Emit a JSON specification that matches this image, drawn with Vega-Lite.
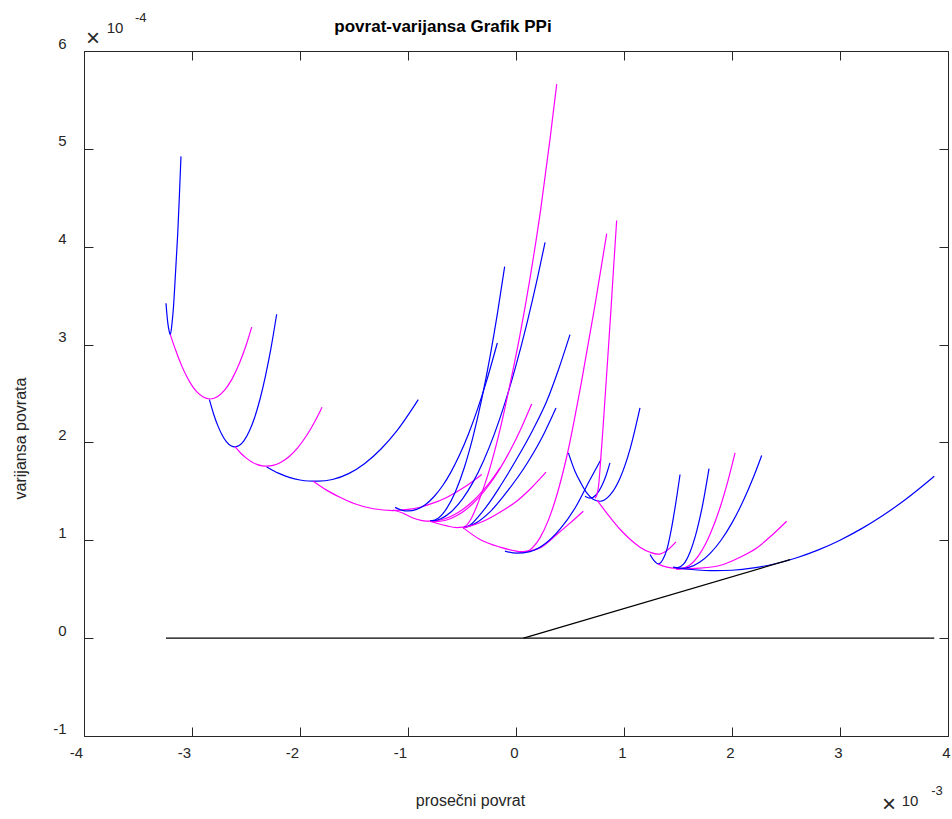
{
"$schema":"https://vega.github.io/schema/vega-lite/v6.json",
"width":864,"height":685,
"autosize":{"type":"none"},
"padding":{"left":84,"top":51,"right":4,"bottom":83},
"background":"white",
"config":{"view":{"stroke":null},"font":"Liberation Sans",
 "axis":{"grid":false,"domainColor":"#262626","tickColor":"#262626","labelColor":"#262626","titleColor":"#262626","labelFont":"Liberation Sans","titleFont":"Liberation Sans","labelFontSize":15,"titleFontSize":16,"titleFontWeight":"normal","tickSize":-9,"domainWidth":1,"tickWidth":1,"labelFlush":false}},
"title":{"text":"povrat-varijansa Grafik PPi","fontSize":17,"fontWeight":"bold","font":"Liberation Sans","color":"#000000","anchor":"middle","dx":-73,"baseline":"bottom","offset":0,"dy":41},
"datasets":{
"lines":[
{"s":1,"c":"b","x":-3.241,"y":3.422},{"s":1,"c":"b","x":-3.225,"y":3.23},{"s":1,"c":"b","x":-3.212,"y":3.14},{"s":1,"c":"b","x":-3.201,"y":3.102},{"s":1,"c":"b","x":-3.185,"y":3.218},{"s":1,"c":"b","x":-3.171,"y":3.391},{"s":1,"c":"b","x":-3.157,"y":3.647},{"s":1,"c":"b","x":-3.144,"y":3.902},{"s":1,"c":"b","x":-3.132,"y":4.137},{"s":1,"c":"b","x":-3.117,"y":4.515},{"s":1,"c":"b","x":-3.102,"y":4.923},
{"s":2,"c":"m","x":-3.201,"y":3.102},{"s":2,"c":"m","x":-3.15,"y":2.939},{"s":2,"c":"m","x":-3.1,"y":2.795},{"s":2,"c":"m","x":-3.05,"y":2.676},{"s":2,"c":"m","x":-3.0,"y":2.581},{"s":2,"c":"m","x":-2.95,"y":2.511},{"s":2,"c":"m","x":-2.9,"y":2.466},{"s":2,"c":"m","x":-2.833,"y":2.444},{"s":2,"c":"m","x":-2.77,"y":2.464},{"s":2,"c":"m","x":-2.7,"y":2.531},{"s":2,"c":"m","x":-2.63,"y":2.647},{"s":2,"c":"m","x":-2.56,"y":2.811},{"s":2,"c":"m","x":-2.5,"y":2.991},{"s":2,"c":"m","x":-2.447,"y":3.179},
{"s":3,"c":"b","x":-2.839,"y":2.437},{"s":3,"c":"b","x":-2.8,"y":2.291},{"s":3,"c":"b","x":-2.76,"y":2.169},{"s":3,"c":"b","x":-2.72,"y":2.074},{"s":3,"c":"b","x":-2.68,"y":2.006},{"s":3,"c":"b","x":-2.64,"y":1.966},{"s":3,"c":"b","x":-2.602,"y":1.954},{"s":3,"c":"b","x":-2.56,"y":1.97},{"s":3,"c":"b","x":-2.52,"y":2.015},{"s":3,"c":"b","x":-2.47,"y":2.113},{"s":3,"c":"b","x":-2.42,"y":2.255},{"s":3,"c":"b","x":-2.37,"y":2.444},{"s":3,"c":"b","x":-2.32,"y":2.678},{"s":3,"c":"b","x":-2.27,"y":2.955},{"s":3,"c":"b","x":-2.216,"y":3.31},
{"s":4,"c":"m","x":-2.602,"y":1.956},{"s":4,"c":"m","x":-2.55,"y":1.892},{"s":4,"c":"m","x":-2.5,"y":1.842},{"s":4,"c":"m","x":-2.45,"y":1.803},{"s":4,"c":"m","x":-2.4,"y":1.776},{"s":4,"c":"m","x":-2.35,"y":1.761},{"s":4,"c":"m","x":-2.308,"y":1.757},{"s":4,"c":"m","x":-2.25,"y":1.765},{"s":4,"c":"m","x":-2.18,"y":1.795},{"s":4,"c":"m","x":-2.1,"y":1.857},{"s":4,"c":"m","x":-2.02,"y":1.948},{"s":4,"c":"m","x":-1.94,"y":2.068},{"s":4,"c":"m","x":-1.86,"y":2.219},{"s":4,"c":"m","x":-1.796,"y":2.36},
{"s":5,"c":"b","x":-2.308,"y":1.75},{"s":5,"c":"b","x":-2.2,"y":1.686},{"s":5,"c":"b","x":-2.1,"y":1.643},{"s":5,"c":"b","x":-2.0,"y":1.616},{"s":5,"c":"b","x":-1.92,"y":1.606},{"s":5,"c":"b","x":-1.833,"y":1.604},{"s":5,"c":"b","x":-1.7,"y":1.621},{"s":5,"c":"b","x":-1.55,"y":1.681},{"s":5,"c":"b","x":-1.4,"y":1.785},{"s":5,"c":"b","x":-1.25,"y":1.933},{"s":5,"c":"b","x":-1.1,"y":2.123},{"s":5,"c":"b","x":-0.905,"y":2.437},
{"s":6,"c":"m","x":-1.877,"y":1.604},{"s":6,"c":"m","x":-1.75,"y":1.51},{"s":6,"c":"m","x":-1.63,"y":1.44},{"s":6,"c":"m","x":-1.5,"y":1.376},{"s":6,"c":"m","x":-1.321,"y":1.322},{"s":6,"c":"m","x":-1.139,"y":1.304},{"s":6,"c":"m","x":-1.0,"y":1.315},{"s":6,"c":"m","x":-0.889,"y":1.338},{"s":6,"c":"m","x":-0.75,"y":1.387},{"s":6,"c":"m","x":-0.642,"y":1.438},{"s":6,"c":"m","x":-0.472,"y":1.546},{"s":6,"c":"m","x":-0.317,"y":1.672},
{"s":7,"c":"b","x":-1.12,"y":1.336},{"s":7,"c":"b","x":-1.06,"y":1.309},{"s":7,"c":"b","x":-1.0,"y":1.3},{"s":7,"c":"b","x":-0.92,"y":1.316},{"s":7,"c":"b","x":-0.84,"y":1.364},{"s":7,"c":"b","x":-0.76,"y":1.445},{"s":7,"c":"b","x":-0.68,"y":1.557},{"s":7,"c":"b","x":-0.6,"y":1.702},{"s":7,"c":"b","x":-0.52,"y":1.878},{"s":7,"c":"b","x":-0.44,"y":2.087},{"s":7,"c":"b","x":-0.36,"y":2.328},{"s":7,"c":"b","x":-0.28,"y":2.601},{"s":7,"c":"b","x":-0.173,"y":3.016},
{"s":8,"c":"m","x":-1.139,"y":1.31},{"s":8,"c":"m","x":-1.05,"y":1.279},{"s":8,"c":"m","x":-0.96,"y":1.23},{"s":8,"c":"m","x":-0.88,"y":1.204},{"s":8,"c":"m","x":-0.796,"y":1.195},{"s":8,"c":"m","x":-0.7,"y":1.207},{"s":8,"c":"m","x":-0.6,"y":1.245},{"s":8,"c":"m","x":-0.5,"y":1.309},{"s":8,"c":"m","x":-0.4,"y":1.399},{"s":8,"c":"m","x":-0.3,"y":1.515},{"s":8,"c":"m","x":-0.22,"y":1.626},{"s":8,"c":"m","x":-0.148,"y":1.741},
{"s":9,"c":"m","x":-0.796,"y":1.193},{"s":9,"c":"m","x":-0.75,"y":1.19},{"s":9,"c":"m","x":-0.65,"y":1.205},{"s":9,"c":"m","x":-0.55,"y":1.25},{"s":9,"c":"m","x":-0.45,"y":1.325},{"s":9,"c":"m","x":-0.35,"y":1.43},{"s":9,"c":"m","x":-0.25,"y":1.565},{"s":9,"c":"m","x":-0.15,"y":1.73},{"s":9,"c":"m","x":-0.05,"y":1.925},{"s":9,"c":"m","x":0.05,"y":2.15},{"s":9,"c":"m","x":0.145,"y":2.392},
{"s":10,"c":"b","x":-0.796,"y":1.195},{"s":10,"c":"b","x":-0.72,"y":1.226},{"s":10,"c":"b","x":-0.64,"y":1.328},{"s":10,"c":"b","x":-0.56,"y":1.499},{"s":10,"c":"b","x":-0.48,"y":1.739},{"s":10,"c":"b","x":-0.4,"y":2.05},{"s":10,"c":"b","x":-0.32,"y":2.43},{"s":10,"c":"b","x":-0.24,"y":2.88},{"s":10,"c":"b","x":-0.17,"y":3.331},{"s":10,"c":"b","x":-0.105,"y":3.797},
{"s":11,"c":"b","x":-0.796,"y":1.195},{"s":11,"c":"b","x":-0.7,"y":1.218},{"s":11,"c":"b","x":-0.6,"y":1.292},{"s":11,"c":"b","x":-0.5,"y":1.415},{"s":11,"c":"b","x":-0.4,"y":1.589},{"s":11,"c":"b","x":-0.3,"y":1.813},{"s":11,"c":"b","x":-0.2,"y":2.087},{"s":11,"c":"b","x":-0.1,"y":2.412},{"s":11,"c":"b","x":0.0,"y":2.787},{"s":11,"c":"b","x":0.1,"y":3.212},{"s":11,"c":"b","x":0.2,"y":3.687},{"s":11,"c":"b","x":0.269,"y":4.045},
{"s":12,"c":"m","x":-0.796,"y":1.195},{"s":12,"c":"m","x":-0.648,"y":1.149},{"s":12,"c":"m","x":-0.55,"y":1.13},{"s":12,"c":"m","x":-0.488,"y":1.135},{"s":12,"c":"m","x":-0.426,"y":1.2},{"s":12,"c":"m","x":-0.352,"y":1.38},{"s":12,"c":"m","x":-0.241,"y":1.74},{"s":12,"c":"m","x":-0.148,"y":2.13},{"s":12,"c":"m","x":-0.062,"y":2.56},{"s":12,"c":"m","x":0.037,"y":3.1},{"s":12,"c":"m","x":0.13,"y":3.68},{"s":12,"c":"m","x":0.231,"y":4.4},{"s":12,"c":"m","x":0.315,"y":5.1},{"s":12,"c":"m","x":0.377,"y":5.662},
{"s":13,"c":"b","x":-0.488,"y":1.127},{"s":13,"c":"b","x":-0.42,"y":1.16},{"s":13,"c":"b","x":-0.35,"y":1.24},{"s":13,"c":"b","x":-0.25,"y":1.38},{"s":13,"c":"b","x":-0.148,"y":1.55},{"s":13,"c":"b","x":0.006,"y":1.83},{"s":13,"c":"b","x":0.157,"y":2.13},{"s":13,"c":"b","x":0.284,"y":2.42},{"s":13,"c":"b","x":0.389,"y":2.73},{"s":13,"c":"b","x":0.5,"y":3.102},
{"s":14,"c":"b","x":-0.488,"y":1.127},{"s":14,"c":"b","x":-0.38,"y":1.17},{"s":14,"c":"b","x":-0.241,"y":1.29},{"s":14,"c":"b","x":-0.074,"y":1.51},{"s":14,"c":"b","x":0.099,"y":1.78},{"s":14,"c":"b","x":0.241,"y":2.05},{"s":14,"c":"b","x":0.37,"y":2.352},
{"s":15,"c":"m","x":-0.488,"y":1.127},{"s":15,"c":"m","x":-0.302,"y":1.195},{"s":15,"c":"m","x":-0.148,"y":1.287},{"s":15,"c":"m","x":0.006,"y":1.399},{"s":15,"c":"m","x":0.148,"y":1.542},{"s":15,"c":"m","x":0.278,"y":1.696},
{"s":16,"c":"m","x":-0.488,"y":1.127},{"s":16,"c":"m","x":-0.333,"y":1.008},{"s":16,"c":"m","x":-0.148,"y":0.93},{"s":16,"c":"m","x":0.006,"y":0.889},{"s":16,"c":"m","x":0.065,"y":0.878},{"s":16,"c":"m","x":0.148,"y":0.919},{"s":16,"c":"m","x":0.222,"y":1.025},{"s":16,"c":"m","x":0.296,"y":1.196},{"s":16,"c":"m","x":0.377,"y":1.458},{"s":16,"c":"m","x":0.469,"y":1.851},{"s":16,"c":"m","x":0.608,"y":2.63},{"s":16,"c":"m","x":0.731,"y":3.4},{"s":16,"c":"m","x":0.84,"y":4.134},
{"s":17,"c":"m","x":0.006,"y":0.885},{"s":17,"c":"m","x":0.065,"y":0.884},{"s":17,"c":"m","x":0.222,"y":0.922},{"s":17,"c":"m","x":0.377,"y":1.059},{"s":17,"c":"m","x":0.5,"y":1.175},{"s":17,"c":"m","x":0.623,"y":1.297},
{"s":18,"c":"b","x":-0.102,"y":0.889},{"s":18,"c":"b","x":0.006,"y":0.868},{"s":18,"c":"b","x":0.13,"y":0.884},{"s":18,"c":"b","x":0.269,"y":0.964},{"s":18,"c":"b","x":0.407,"y":1.113},{"s":18,"c":"b","x":0.546,"y":1.328},{"s":18,"c":"b","x":0.685,"y":1.619},{"s":18,"c":"b","x":0.787,"y":1.825},
{"s":19,"c":"b","x":0.485,"y":1.893},{"s":19,"c":"b","x":0.546,"y":1.706},{"s":19,"c":"b","x":0.602,"y":1.583},{"s":19,"c":"b","x":0.657,"y":1.481},{"s":19,"c":"b","x":0.713,"y":1.42},{"s":19,"c":"b","x":0.778,"y":1.399},{"s":19,"c":"b","x":0.87,"y":1.461},{"s":19,"c":"b","x":0.963,"y":1.634},{"s":19,"c":"b","x":1.056,"y":1.931},{"s":19,"c":"b","x":1.148,"y":2.352},
{"s":20,"c":"b","x":0.639,"y":1.45},{"s":20,"c":"b","x":0.685,"y":1.43},{"s":20,"c":"b","x":0.741,"y":1.463},{"s":20,"c":"b","x":0.796,"y":1.56},{"s":20,"c":"b","x":0.833,"y":1.66},{"s":20,"c":"b","x":0.87,"y":1.791},
{"s":21,"c":"m","x":0.731,"y":1.43},{"s":21,"c":"m","x":0.75,"y":1.47},{"s":21,"c":"m","x":0.765,"y":1.56},{"s":21,"c":"m","x":0.78,"y":1.76},{"s":21,"c":"m","x":0.8,"y":2.06},{"s":21,"c":"m","x":0.82,"y":2.38},{"s":21,"c":"m","x":0.85,"y":2.87},{"s":21,"c":"m","x":0.88,"y":3.37},{"s":21,"c":"m","x":0.905,"y":3.81},{"s":21,"c":"m","x":0.932,"y":4.267},
{"s":22,"c":"m","x":0.75,"y":1.41},{"s":22,"c":"m","x":0.87,"y":1.236},{"s":22,"c":"m","x":0.963,"y":1.113},{"s":22,"c":"m","x":1.056,"y":1.011},{"s":22,"c":"m","x":1.148,"y":0.93},{"s":22,"c":"m","x":1.241,"y":0.878},{"s":22,"c":"m","x":1.315,"y":0.858},{"s":22,"c":"m","x":1.389,"y":0.889},{"s":22,"c":"m","x":1.481,"y":0.984},
{"s":23,"c":"b","x":1.241,"y":0.855},{"s":23,"c":"b","x":1.278,"y":0.792},{"s":23,"c":"b","x":1.318,"y":0.759},{"s":23,"c":"b","x":1.361,"y":0.807},{"s":23,"c":"b","x":1.398,"y":0.909},{"s":23,"c":"b","x":1.435,"y":1.093},{"s":23,"c":"b","x":1.472,"y":1.328},{"s":23,"c":"b","x":1.519,"y":1.672},
{"s":24,"c":"m","x":1.315,"y":0.756},{"s":24,"c":"m","x":1.398,"y":0.725},{"s":24,"c":"m","x":1.481,"y":0.712},{"s":24,"c":"m","x":1.52,"y":0.71},{"s":24,"c":"m","x":1.6,"y":0.739},{"s":24,"c":"m","x":1.7,"y":0.858},{"s":24,"c":"m","x":1.8,"y":1.069},{"s":24,"c":"m","x":1.9,"y":1.371},{"s":24,"c":"m","x":1.96,"y":1.597},{"s":24,"c":"m","x":2.028,"y":1.893},
{"s":25,"c":"b","x":1.481,"y":0.71},{"s":25,"c":"b","x":1.549,"y":0.753},{"s":25,"c":"b","x":1.611,"y":0.878},{"s":25,"c":"b","x":1.673,"y":1.093},{"s":25,"c":"b","x":1.722,"y":1.328},{"s":25,"c":"b","x":1.787,"y":1.733},
{"s":26,"c":"b","x":1.481,"y":0.713},{"s":26,"c":"b","x":1.52,"y":0.71},{"s":26,"c":"b","x":1.6,"y":0.723},{"s":26,"c":"b","x":1.7,"y":0.776},{"s":26,"c":"b","x":1.8,"y":0.869},{"s":26,"c":"b","x":1.9,"y":1.003},{"s":26,"c":"b","x":2.0,"y":1.178},{"s":26,"c":"b","x":2.1,"y":1.393},{"s":26,"c":"b","x":2.2,"y":1.649},{"s":26,"c":"b","x":2.275,"y":1.867},
{"s":27,"c":"m","x":1.481,"y":0.705},{"s":27,"c":"m","x":1.704,"y":0.715},{"s":27,"c":"m","x":1.919,"y":0.753},{"s":27,"c":"m","x":2.074,"y":0.827},{"s":27,"c":"m","x":2.229,"y":0.922},{"s":27,"c":"m","x":2.37,"y":1.052},{"s":27,"c":"m","x":2.506,"y":1.195},
{"s":28,"c":"b","x":1.454,"y":0.726},{"s":28,"c":"b","x":1.6,"y":0.704},{"s":28,"c":"b","x":1.75,"y":0.691},{"s":28,"c":"b","x":1.85,"y":0.689},{"s":28,"c":"b","x":2.0,"y":0.694},{"s":28,"c":"b","x":2.2,"y":0.718},{"s":28,"c":"b","x":2.4,"y":0.76},{"s":28,"c":"b","x":2.6,"y":0.822},{"s":28,"c":"b","x":2.8,"y":0.902},{"s":28,"c":"b","x":3.0,"y":1.001},{"s":28,"c":"b","x":3.2,"y":1.119},{"s":28,"c":"b","x":3.4,"y":1.256},{"s":28,"c":"b","x":3.6,"y":1.412},{"s":28,"c":"b","x":3.873,"y":1.655},
{"s":29,"c":"k","x":-3.241,"y":0},{"s":29,"c":"k","x":3.873,"y":0},
{"s":30,"c":"k","x":0.07,"y":0},{"s":30,"c":"k","x":2.537,"y":0.802}
],
"ann":[
{"k":"x","t":"×","x":-3.917,"y":6.118},{"k":"b","t":"10","x":-3.713,"y":6.231},{"k":"e","t":"-4","x":-3.475,"y":6.333},
{"k":"x","t":"×","x":3.454,"y":-1.70},{"k":"b","t":"10","x":3.648,"y":-1.665},{"k":"e","t":"-3","x":3.898,"y":-1.563}
]},
"layer":[
{"data":{"name":"lines"},
 "mark":{"type":"line","strokeWidth":1.2,"interpolate":"monotone"},
 "encoding":{
  "x":{"field":"x","type":"quantitative","scale":{"domain":[-4,4],"nice":false,"zero":false},
       "axis":{"orient":"bottom","values":[-4,-3,-2,-1,0,1,2,3,4],"title":"prosečni povrat","labelExpr":"'' + datum.value","labelPadding":18,"labelBaseline":"top","labelFlush":false,
               "labelOffset":{"condition":{"test":"datum.value < 0","value":-8},"value":-2},
               "titleX":386,"titleY":64,"titleBaseline":"middle","titleAlign":"center"}},
  "y":{"field":"y","type":"quantitative","scale":{"domain":[-1,6],"nice":false,"zero":false},
       "axis":{"orient":"left","values":[-1,0,1,2,3,4,5,6],"title":"varijansa povrata","labelExpr":"'' + datum.value","labelPadding":27,"labelOffset":-8,"labelBaseline":"middle","labelFlush":false,"titleX":-64,"titleY":387,"titleBaseline":"middle","titleAlign":"center","titleAngle":-90}},
  "color":{"field":"c","type":"nominal","scale":{"domain":["b","m","k"],"range":["#0000ff","#ff00ff","#000000"]},"legend":null},
  "detail":{"field":"s","type":"nominal"}
 }},
{"data":{"name":"ann"},"transform":[{"filter":"datum.k == 'x'"}],
 "mark":{"type":"text","font":"Liberation Sans","fontSize":24,"fontWeight":"lighter","color":"#262626","align":"center","baseline":"middle"},
 "encoding":{
  "x":{"field":"x","type":"quantitative","scale":{"domain":[-4,4],"nice":false,"zero":false},"axis":{"orient":"top","values":[-4,-3,-2,-1,0,1,2,3,4],"labels":false,"title":null}},
  "y":{"field":"y","type":"quantitative","scale":{"domain":[-1,6],"nice":false,"zero":false},"axis":{"orient":"right","values":[-1,0,1,2,3,4,5,6],"labels":false,"title":null}},
  "text":{"field":"t"}}},
{"data":{"name":"ann"},"transform":[{"filter":"datum.k == 'b'"}],
 "mark":{"type":"text","font":"Liberation Sans","fontSize":15,"color":"#262626","align":"center","baseline":"middle"},
 "encoding":{
  "x":{"field":"x","type":"quantitative","axis":null},
  "y":{"field":"y","type":"quantitative","axis":null},
  "text":{"field":"t"}}},
{"data":{"name":"ann"},"transform":[{"filter":"datum.k == 'e'"}],
 "mark":{"type":"text","font":"Liberation Sans","fontSize":13,"color":"#262626","align":"center","baseline":"middle"},
 "encoding":{
  "x":{"field":"x","type":"quantitative","axis":null},
  "y":{"field":"y","type":"quantitative","axis":null},
  "text":{"field":"t"}}}
],
"resolve":{"axis":{"x":"independent","y":"independent"}}
}
